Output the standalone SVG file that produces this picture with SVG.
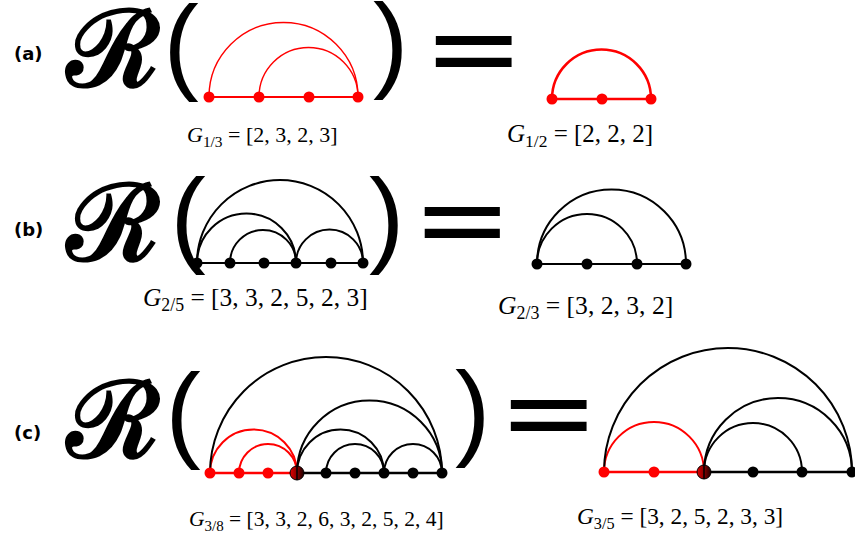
<svg xmlns="http://www.w3.org/2000/svg" width="855" height="537" viewBox="0 0 855 537">
<defs>
<style>
.lab{font-family:"DejaVu Sans",sans-serif;font-weight:bold;font-size:18px;fill:#000}
.cal{font-family:"DejaVu Serif",serif;font-size:106px;font-weight:bold;fill:#000}
.par{font-family:"Liberation Sans",Arial,sans-serif;font-size:106px;fill:#000}
.eq{font-family:"DejaVu Sans",sans-serif;font-size:100px;fill:#000}
.m{font-family:"Liberation Serif","Times New Roman",serif;fill:#000}
.it{font-style:italic}
.r{fill:#ff0000}
.k{fill:#000}
.er{stroke:#ff0000;fill:none}
.ek{stroke:#000;fill:none}
</style>
<linearGradient id="mix" x1="0" x2="1" y1="0" y2="0">
<stop offset="0" stop-color="#e00000"/>
<stop offset="0.5" stop-color="#8a0000"/>
<stop offset="1" stop-color="#1a0000"/>
</linearGradient>
</defs>

<g id="labels">
<text class="lab" x="14" y="60">(a)</text>
<text class="lab" x="14" y="236">(b)</text>
<text class="lab" x="14" y="439">(c)</text>
</g>

<g id="operators">
<text class="cal" x="67" y="86">ℛ</text>
<text class="par" x="163.6" y="80">(</text>
<text class="par" x="373" y="78">)</text>
<text class="eq" transform="translate(423,85.7) scale(1.21,1.1)">=</text>

<text class="cal" x="67" y="260">ℛ</text>
<text class="par" x="170.6" y="253">(</text>
<text class="par" x="369" y="253">)</text>
<text class="eq" transform="translate(412,256.7) scale(1.2,1.1)">=</text>

<text class="cal" x="67" y="457">ℛ</text>
<text class="par" x="165.6" y="448">(</text>
<text class="par" x="455" y="446">)</text>
<text class="eq" transform="translate(498,449.7) scale(1.21,1.1)">=</text>
</g>

<g id="connectors">
<!-- (a) left -->
<line class="er" x1="209" y1="97" x2="358" y2="97" stroke-width="2"/>
<path class="er" stroke-width="1.4" d="M209 97 A74.5 74.5 0 0 1 358 97"/>
<path class="er" stroke-width="1.4" d="M259 97 A49.5 49.5 0 0 1 358 97"/>
<!-- (a) right -->
<line class="er" x1="552" y1="99" x2="651" y2="99" stroke-width="2.5"/>
<path class="er" stroke-width="2.5" d="M552 99 A49.5 49.5 0 0 1 651 99"/>
<!-- (b) left -->
<line class="ek" x1="197" y1="263" x2="363" y2="263" stroke-width="1.8"/>
<path class="ek" stroke-width="2" d="M197 263 A83 83 0 0 1 363 263"/>
<path class="ek" stroke-width="2" d="M197 263 A49.5 49.5 0 0 1 296 263"/>
<path class="ek" stroke-width="2" d="M230 263 A33 33 0 0 1 296 263"/>
<path class="ek" stroke-width="2" d="M296 263 A33.5 33.5 0 0 1 363 263"/>
<!-- (b) right -->
<line class="ek" x1="537" y1="264" x2="686" y2="264" stroke-width="2"/>
<path class="ek" stroke-width="2" d="M537 264 A74.5 74.5 0 0 1 686 264"/>
<path class="ek" stroke-width="2" d="M537 264 A50 50 0 0 1 637 264"/>
<!-- (c) left -->
<line class="er" x1="210" y1="473" x2="297" y2="473" stroke-width="2.5"/>
<line class="ek" x1="297" y1="473" x2="442" y2="473" stroke-width="2.5"/>
<path class="er" stroke-width="2" d="M210 473 A43.5 43.5 0 0 1 297 473"/>
<path class="er" stroke-width="2" d="M239 473 A29 29 0 0 1 297 473"/>
<path class="ek" stroke-width="2" d="M210 473 A116 116 0 0 1 442 473"/>
<path class="ek" stroke-width="2" d="M297 473 A72.5 72.5 0 0 1 442 473"/>
<path class="ek" stroke-width="2" d="M297 473 A43.5 43.5 0 0 1 384 473"/>
<path class="ek" stroke-width="2" d="M326 473 A29 29 0 0 1 384 473"/>
<path class="ek" stroke-width="2" d="M384 473 A29 29 0 0 1 442 473"/>
<!-- (c) right -->
<line class="er" x1="604" y1="472" x2="704" y2="472" stroke-width="2.5"/>
<line class="ek" x1="704" y1="472" x2="852" y2="472" stroke-width="2.5"/>
<path class="er" stroke-width="2" d="M604 472 A50 50 0 0 1 704 472"/>
<path class="ek" stroke-width="2" d="M604 472 A124 124 0 0 1 852 472"/>
<path class="ek" stroke-width="2" d="M704 472 A74 74 0 0 1 852 472"/>
<path class="ek" stroke-width="2" d="M704 472 A49 49 0 0 1 802 472"/>
</g>

<g id="graph-a-left">
<g id="a1n1"><circle class="r" cx="209" cy="97" r="5.5"/></g>
<g id="a1n2"><circle class="r" cx="259" cy="97" r="5.5"/></g>
<g id="a1n3"><circle class="r" cx="309" cy="97" r="5.5"/></g>
<g id="a1n4"><circle class="r" cx="358" cy="97" r="5.5"/></g>
</g>
<g id="graph-a-right">
<g id="a2n1"><circle class="r" cx="552" cy="99" r="5.5"/></g>
<g id="a2n2"><circle class="r" cx="602" cy="99" r="5.5"/></g>
<g id="a2n3"><circle class="r" cx="651" cy="99" r="5.5"/></g>
</g>
<g id="graph-b-left">
<g id="b1n1"><circle class="k" cx="197" cy="263" r="5.5"/></g>
<g id="b1n2"><circle class="k" cx="230" cy="263" r="5.5"/></g>
<g id="b1n3"><circle class="k" cx="264" cy="263" r="5.5"/></g>
<g id="b1n4"><circle class="k" cx="296" cy="263" r="5.5"/></g>
<g id="b1n5"><circle class="k" cx="331" cy="263" r="5.5"/></g>
<g id="b1n6"><circle class="k" cx="363" cy="263" r="5.5"/></g>
</g>
<g id="graph-b-right">
<g id="b2n1"><circle class="k" cx="537" cy="264" r="5.5"/></g>
<g id="b2n2"><circle class="k" cx="587" cy="264" r="5.5"/></g>
<g id="b2n3"><circle class="k" cx="637" cy="264" r="5.5"/></g>
<g id="b2n4"><circle class="k" cx="686" cy="264" r="5.5"/></g>
</g>
<g id="graph-c-left">
<g id="c1n1"><circle class="r" cx="210" cy="473" r="5.5"/></g>
<g id="c1n2"><circle class="r" cx="239" cy="473" r="5.5"/></g>
<g id="c1n3"><circle class="r" cx="268" cy="473" r="5.5"/></g>
<g id="c1n4"><circle cx="297" cy="473" r="7" fill="url(#mix)" stroke="#000" stroke-width="1"/><line x1="297" y1="466" x2="297" y2="480" stroke="#000" stroke-width="1.5"/></g>
<g id="c1n5"><circle class="k" cx="326" cy="473" r="5.5"/></g>
<g id="c1n6"><circle class="k" cx="355" cy="473" r="5.5"/></g>
<g id="c1n7"><circle class="k" cx="384" cy="473" r="5.5"/></g>
<g id="c1n8"><circle class="k" cx="413" cy="473" r="5.5"/></g>
<g id="c1n9"><circle class="k" cx="442" cy="473" r="5.5"/></g>
</g>
<g id="graph-c-right">
<g id="c2n1"><circle class="r" cx="604" cy="472" r="5.5"/></g>
<g id="c2n2"><circle class="r" cx="654" cy="472" r="5.5"/></g>
<g id="c2n3"><circle cx="704" cy="472" r="7" fill="url(#mix)" stroke="#000" stroke-width="1"/><line x1="704" y1="465" x2="704" y2="479" stroke="#000" stroke-width="1.5"/></g>
<g id="c2n4"><circle class="k" cx="753" cy="472" r="5.5"/></g>
<g id="c2n5"><circle class="k" cx="802" cy="472" r="5.5"/></g>
<g id="c2n6"><circle class="k" cx="852" cy="472" r="5.5"/></g>
</g>

<g id="captions">
<text class="m" x="187" y="142" font-size="22"><tspan class="it">G</tspan><tspan font-size="15.4" dy="4.5">1/3</tspan><tspan dy="-4.5"> = [2, 3, 2, 3]</tspan></text>
<text class="m" x="507" y="142" font-size="25"><tspan class="it">G</tspan><tspan font-size="17.5" dy="5">1/2</tspan><tspan dy="-5"> = [2, 2, 2]</tspan></text>
<text class="m" x="143" y="306" font-size="25.4"><tspan class="it">G</tspan><tspan font-size="17.8" dy="5">2/5</tspan><tspan dy="-5"> = [3, 3, 2, 5, 2, 3]</tspan></text>
<text class="m" x="498" y="314" font-size="25.6"><tspan class="it">G</tspan><tspan font-size="17.9" dy="5">2/3</tspan><tspan dy="-5"> = [3, 2, 3, 2]</tspan></text>
<text class="m" x="189" y="526" font-size="21.5"><tspan class="it">G</tspan><tspan font-size="15" dy="4.5">3/8</tspan><tspan dy="-4.5"> = [3, 3, 2, 6, 3, 2, 5, 2, 4]</tspan></text>
<text class="m" x="577" y="524" font-size="23.3"><tspan class="it">G</tspan><tspan font-size="16.3" dy="4.7">3/5</tspan><tspan dy="-4.7"> = [3, 2, 5, 2, 3, 3]</tspan></text>
</g>
</svg>
